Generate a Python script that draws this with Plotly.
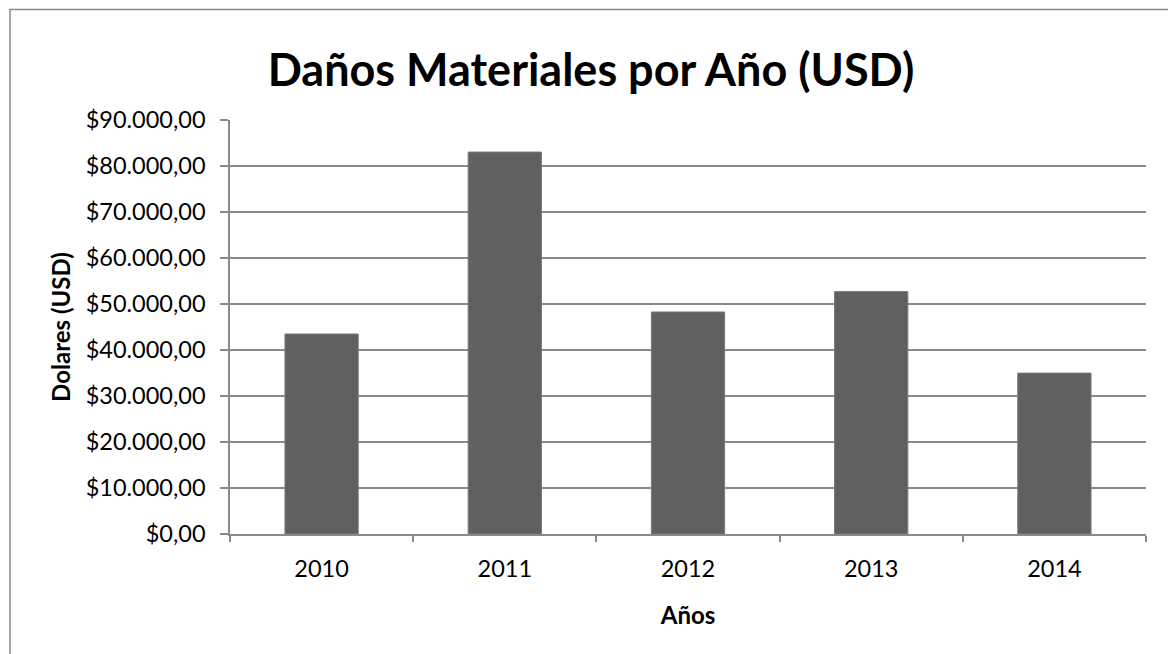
import plotly.graph_objects as go

# Material damage per year, in US dollars
years = ["2010", "2011", "2012", "2013", "2014"]
damages_usd = [43480, 83030, 48270, 52700, 34980]

title_text = "Daños Materiales por Año (USD)"
x_title = "Años"
y_title = "Dolares (USD)"

FONT = "Lato"
GRID = "#8a8a8a"

fig = go.Figure(
    go.Bar(
        x=years,
        y=damages_usd,
        marker=dict(color="#606060", line=dict(color="#7a7a7a", width=1)),
        width=0.4,
    )
)

W, H = 1168, 654
L, R, T, B = 230, 22, 120, 120

fig.update_layout(
    width=W,
    height=H,
    margin=dict(l=L, r=R, t=T, b=B, pad=0),
    paper_bgcolor="white",
    plot_bgcolor="white",
    separators=",.",
    showlegend=False,
    font=dict(family=FONT, color="black", size=23),
    title=dict(
        text=f"<b>{title_text}</b>",
        x=591 / W,
        xanchor="center",
        y=1 - 70 / H,
        yanchor="middle",
        font=dict(family=FONT, size=45, color="black"),
    ),
    xaxis=dict(
        type="category",
        showline=True,
        linecolor=GRID,
        linewidth=1.5,
        ticks="outside",
        tickson="boundaries",
        ticklen=6,
        tickcolor=GRID,
        tickwidth=1.5,
        showgrid=False,
        ticklabelstandoff=13,
        tickfont=dict(family=FONT, size=23.5, color="black"),
        title=dict(
            text=f"<b>{x_title}</b>",
            font=dict(family=FONT, size=24, color="black"),
            standoff=26,
        ),
    ),
    yaxis=dict(
        range=[0, 90000],
        dtick=10000,
        tick0=0,
        tickprefix="$",
        tickformat=",.2f",
        showline=True,
        linecolor=GRID,
        linewidth=1.5,
        ticks="outside",
        ticklen=8,
        tickcolor=GRID,
        tickwidth=1.5,
        showgrid=True,
        gridcolor=GRID,
        gridwidth=1.5,
        zeroline=False,
        ticklabelstandoff=10,
        tickfont=dict(family=FONT, size=23.5, color="black"),
        title=dict(
            text=f"<b>{y_title}</b>",
            font=dict(family=FONT, size=24, color="black"),
            standoff=8,
        ),
    ),
)

# Outer chart frame (runs past the right and bottom edges of the page)
pw, ph = W - L - R, H - T - B
fig.add_shape(
    type="rect",
    xref="paper",
    yref="paper",
    x0=(10 - L) / pw,
    x1=(W + 10 - L) / pw,
    y0=-(H + 10 - (H - B)) / ph,
    y1=(H - B - 9.5) / ph,
    line=dict(color="#8a8a8a", width=1.5),
    fillcolor="rgba(0,0,0,0)",
    layer="below",
)

fig.write_html("out.html")
